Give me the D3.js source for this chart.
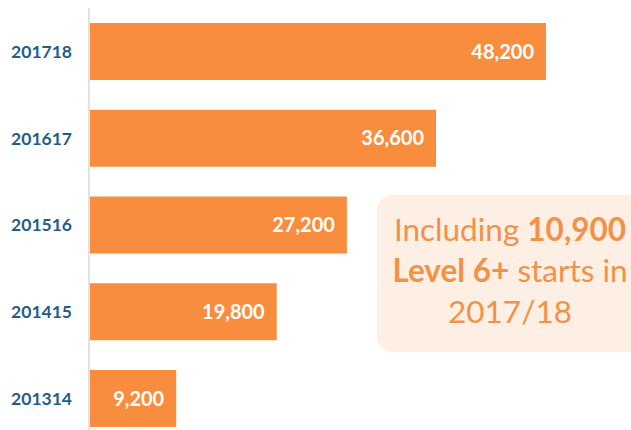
<!DOCTYPE html>
<html><head><meta charset="utf-8">
<script src="https://cdn.jsdelivr.net/npm/d3@7"></script>
<style>body{margin:0;background:#fff}svg{display:block}</style>
</head><body>
<svg id="c" width="631" height="430"></svg>
<script>
const categories = ["201718","201617","201516","201415","201314"];
const values = [48200,36600,27200,19800,9200];
const noteLines = [
  [{t:"Including ",b:false},{t:"10,900",b:true}],
  [{t:"Level 6+",b:true},{t:" starts in",b:false}],
  [{t:"2017/18",b:false}]
];

const svg = d3.select("#c");
const W = 631, H = 430;
const x0 = 89;
const x = d3.scaleLinear().domain([0, 48200]).range([x0, 546]);
const y = d3.scaleBand().domain(categories).range([8.3, 441.7]).paddingInner(0.343).paddingOuter(0.17);

const font = "Lato, 'Open Sans', sans-serif";

svg.append("line").attr("x1",x0).attr("x2",x0).attr("y1",8).attr("y2",H)
  .attr("stroke","#d9d9d9").attr("stroke-width",1.5);

svg.selectAll("rect.bar").data(categories).join("rect").attr("class","bar")
  .attr("x", x(0)+1).attr("y", d=>y(d)).attr("height", y.bandwidth())
  .attr("width", (d,i)=>x(values[i])-x(0)-1).attr("fill","#F98D3E");

svg.selectAll("text.val").data(categories).join("text").attr("class","val")
  .attr("x",(d,i)=>x(values[i])-12).attr("y", d=>y(d)+y.bandwidth()/2)
  .attr("dy","0.36em").attr("text-anchor","end")
  .attr("font-family",font).attr("font-weight","bold").attr("font-size",20)
  .attr("fill","#fff").text((d,i)=>d3.format(",")(values[i]));

svg.selectAll("text.cat").data(categories).join("text").attr("class","cat")
  .attr("x",72).attr("y", d=>y(d)+y.bandwidth()/2).attr("dy","0.36em")
  .attr("text-anchor","end").attr("font-family",font).attr("font-weight","bold")
  .attr("font-size",17.5).attr("fill","#1F5D8A").text(d=>d);

svg.append("rect").attr("x",377).attr("y",195).attr("width",280).attr("height",157)
  .attr("rx",16).attr("fill","#FDEFE4");
const ty = [241, 282, 323];
noteLines.forEach((ln,i)=>{
  const t = svg.append("text").attr("x",510).attr("y",ty[i]).attr("text-anchor","middle")
    .attr("font-family",font).attr("font-size",31.5).attr("fill","#F39149");
  ln.forEach(s=>t.append("tspan").attr("font-weight",s.b?"bold":"normal").text(s.t));
});
</script>
</body></html>
